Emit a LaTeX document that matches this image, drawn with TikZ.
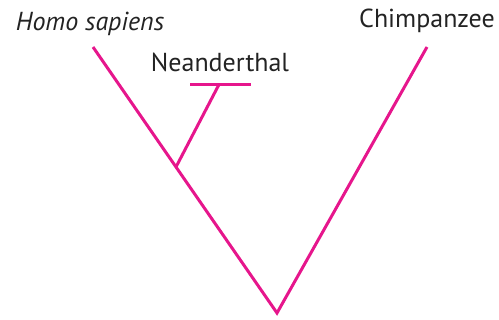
\documentclass[tikz,border=0pt]{standalone}
\usepackage{fontspec}
\setmainfont{PT Sans}
\usetikzlibrary{positioning}
\definecolor{branchpink}{RGB}{230,22,140}
\definecolor{labelgrey}{RGB}{35,35,35}

\begin{document}
\begin{tikzpicture}[
        x=1pt,y=-1pt,
        every node/.style={font=\fontsize{26}{30}\selectfont},
        taxon/.style={text=labelgrey,inner sep=0pt,anchor=base},
        branch/.style={draw=branchpink,line width=3pt}
    ]
        \useasboundingbox (0,0) rectangle (499,320);

        % tree points
        \coordinate (root) at (277,313);
        \coordinate (split) at (176,167);
        \coordinate (sapienstip) at (93,47);
        \coordinate (chimptip) at (427,47);
        \coordinate (neantip) at (219,84.5);
        \coordinate (barleft) at (190,84.5);
        \coordinate (barright) at (251,84.5);

        % labels
        \node[taxon,font=\fontsize{26}{30}\selectfont\itshape] (sapiens) at (90,31) {Homo sapiens};
        \node[taxon] (neanderthal) at (220,72) {Neanderthal};
        \node[taxon] (chimp) at (427,28) {Chimpanzee};

        % branches
        \draw[branch] (sapienstip) -- (split) -- (root) -- (chimptip);
        \draw[branch] (split) -- (neantip);
        \draw[branch] (barleft) -- (barright);
    \end{tikzpicture}
\end{document}
